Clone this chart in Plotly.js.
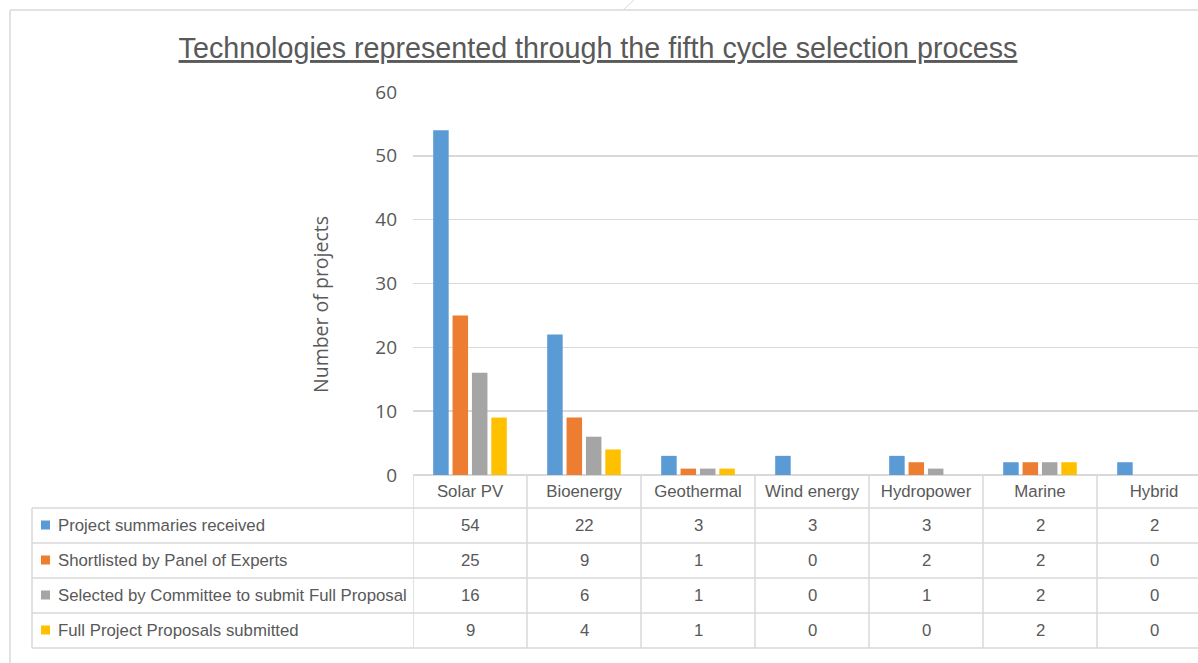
<!DOCTYPE html>
<html>
<head>
<meta charset="utf-8">
<script src="https://cdn.plot.ly/plotly-3.0.1.min.js"></script>
<style>html,body{margin:0;padding:0;background:#fff;}#chart{width:1198px;height:663px;}</style>
</head>
<body>
<div id="chart"></div>
<script>
const categories = ['Solar PV', 'Bioenergy', 'Geothermal', 'Wind energy', 'Hydropower', 'Marine', 'Hybrid'];
const seriesNames = ['Project summaries received', 'Shortlisted by Panel of Experts', 'Selected by Committee to submit Full Proposal', 'Full Project Proposals submitted'];
const received = [54, 22, 3, 3, 3, 2, 2];
const shortlisted = [25, 9, 1, 0, 2, 2, 0];
const selected = [16, 6, 1, 0, 1, 2, 0];
const submitted = [9, 4, 1, 0, 0, 2, 0];
const yTicks = [0, 10, 20, 30, 40, 50, 60];
const colors = ['#5B9BD5', '#ED7D31', '#A5A5A5', '#FFC000'];

const seriesValues = [received, shortlisted, selected, submitted];

const W = 1198, H = 663;
const L = 413, T = 92, B = 475;
const plotW = W - L, plotH = B - T;
const px = p => (p - L) / plotW;
const py = p => (B - p) / plotH;

const textColor = '#595959';
const tableFont = 'Liberation Sans Narrow, Liberation Sans, Arial, sans-serif';
const axisFont = 'Open Sans, DejaVu Sans, sans-serif';
const lineColor = '#d9d9d9';
const tableSize = 16.8;

const traces = seriesNames.map((name, i) => ({
  type: 'bar',
  name: name,
  x: categories,
  y: seriesValues[i],
  marker: {color: colors[i]},
  hoverinfo: 'x+y+name'
}));

const headerTop = 475, rowH = 35, firstRow = 508;
const tableLeft = 32;
const shapes = [];
const annotations = [];

// chart border
shapes.push({type: 'line', xref: 'paper', yref: 'paper', x0: px(10), x1: px(W), y0: py(10), y1: py(10), line: {color: lineColor, width: 1.5}});
shapes.push({type: 'line', xref: 'paper', yref: 'paper', x0: px(10), x1: px(10), y0: py(10), y1: py(H), line: {color: lineColor, width: 1.5}});
shapes.push({type: 'line', xref: 'paper', yref: 'paper', x0: px(623), x1: px(636), y0: py(10), y1: py(-2), line: {color: lineColor, width: 1}});

// table horizontal lines
for (let r = 0; r <= seriesNames.length; r++) {
  const yy = firstRow + rowH * r;
  shapes.push({type: 'line', xref: 'paper', yref: 'paper', x0: px(tableLeft), x1: 1, y0: py(yy), y1: py(yy), line: {color: lineColor, width: 1.5}});
}
// left border of table
shapes.push({type: 'line', xref: 'paper', yref: 'paper', x0: px(tableLeft), x1: px(tableLeft), y0: py(firstRow), y1: py(firstRow + rowH * seriesNames.length), line: {color: lineColor, width: 1.5}});
// column separators
for (let c = 0; c <= categories.length; c++) {
  shapes.push({type: 'line', xref: 'x', yref: 'paper', x0: c - 0.5, x1: c - 0.5, y0: py(headerTop), y1: py(firstRow + rowH * seriesNames.length), line: {color: lineColor, width: 1.5}});
}
// legend keys and row labels
seriesNames.forEach((name, r) => {
  const cy = firstRow + rowH * r + rowH / 2;
  shapes.push({type: 'rect', xref: 'paper', yref: 'paper', x0: px(41), x1: px(50), y0: py(cy - 5), y1: py(cy + 4), fillcolor: colors[r], line: {width: 0}});
  annotations.push({xref: 'paper', yref: 'paper', x: px(56), y: py(cy), xanchor: 'left', yanchor: 'middle', showarrow: false, text: name, font: {family: tableFont, size: tableSize, color: textColor}});
  seriesValues[r].forEach((v, c) => {
    annotations.push({xref: 'x', yref: 'paper', x: c, y: py(cy), xanchor: 'center', yanchor: 'middle', showarrow: false, text: String(v), font: {family: tableFont, size: tableSize, color: textColor}});
  });
});

// y axis title
annotations.push({xref: 'paper', yref: 'paper', x: px(320), y: py(305), xanchor: 'center', yanchor: 'middle', textangle: -90, showarrow: false, text: 'Number of projects', font: {family: axisFont, size: 19.5, color: textColor}});

const layout = {
  width: W, height: H,
  margin: {l: L, r: 0, t: T, b: H - B},
  paper_bgcolor: '#ffffff', plot_bgcolor: '#ffffff',
  title: {text: '<u>Technologies represented through the fifth cycle selection process</u>', xref: 'container', x: 598 / W, xanchor: 'center', y: 1 - 48 / H, yanchor: 'middle', font: {family: tableFont, size: 28.7, color: textColor}},
  showlegend: false,
  barmode: 'group',
  bargap: 0.32,
  bargroupgap: 0.2,
  xaxis: {
    type: 'category',
    range: [-0.5, -0.5 + plotW / 114],
    showgrid: false, zeroline: false, showline: false,
    ticks: '', ticklabelstandoff: 4,
    tickfont: {family: tableFont, size: tableSize, color: textColor},
    fixedrange: true
  },
  yaxis: {
    range: [0, 60],
    tickvals: yTicks,
    ticktext: yTicks.map(String),
    showgrid: true, gridcolor: lineColor, gridwidth: 1.5,
    zeroline: true, zerolinecolor: lineColor, zerolinewidth: 1.5,
    showline: false, ticks: '', ticklabelstandoff: 15,
    tickfont: {family: axisFont, size: 19, color: textColor},
    fixedrange: true
  },
  shapes: shapes,
  annotations: annotations
};

Plotly.newPlot('chart', traces, layout, {displayModeBar: false, staticPlot: true});
</script>
</body>
</html>
